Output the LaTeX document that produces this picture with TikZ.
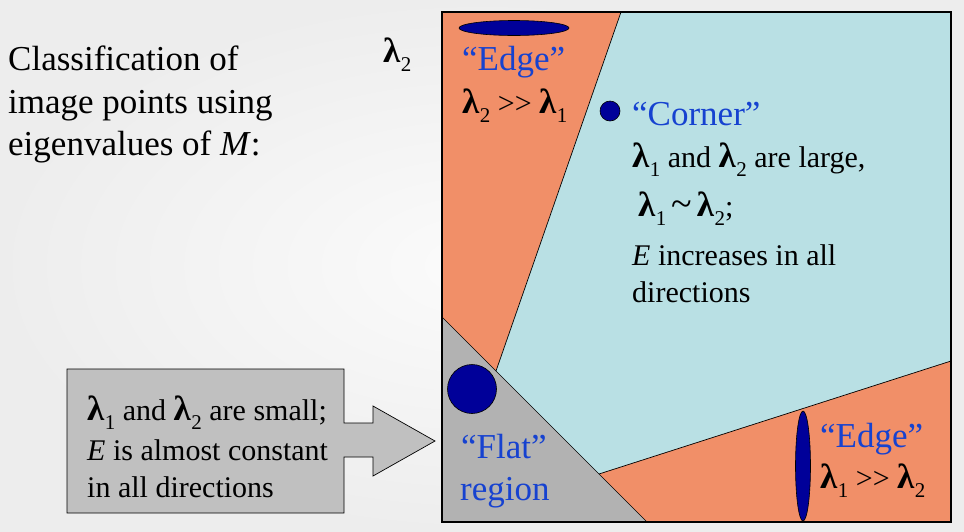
\documentclass[tikz,border=0pt]{standalone}
\usepackage{fontspec}
\setmainfont{Liberation Serif}
\definecolor{salmonfill}{RGB}{241,143,104}
\definecolor{cyanfill}{RGB}{185,224,228}
\definecolor{flatgray}{RGB}{178,178,178}
\definecolor{boxgray}{RGB}{192,192,192}
\definecolor{navyblob}{RGB}{0,0,153}
\definecolor{labelblue}{RGB}{22,66,208}
\newcommand\lamglyph{{\fontsize{35}{35}\selectfont\bfseries λ}}
\newcommand\lam[1]{\lamglyph\kern0.5pt\raisebox{-9pt}{\fontsize{21}{21}\selectfont #1}}
\newcommand\bigtilde{{\fontsize{38}{38}\selectfont\textasciitilde}}
\tikzset{
  big/.style={font=\fontsize{35}{42}\selectfont, inner sep=0pt, anchor=base west},
  body/.style={font=\fontsize{30}{36}\selectfont, inner sep=0pt, anchor=base west},
  bluelabel/.style={big, text=labelblue},
  blob/.style={draw=black, line width=0.6pt, fill=navyblob},
  region/.style={draw=black, line width=0.7pt}
}
\begin{document}
\begin{tikzpicture}[x=1pt,y=-1pt]
\useasboundingbox (0,0) rectangle (964,531);
\shade[inner color=gray!3, outer color=gray!14] (0,0) rectangle (964,531);

% regions
\fill[salmonfill] (442,12) -- (621,12) -- (496,371) -- (442,317) -- cycle;
\fill[cyanfill] (621,12) -- (951,12) -- (951,361) -- (599,474) -- (496,371) -- cycle;
\fill[salmonfill] (599,474) -- (951,361) -- (951,522) -- (647,522) -- cycle;
\fill[flatgray] (442,317) -- (647,522) -- (442,522) -- cycle;
\draw[region] (621,12) -- (496,371);
\draw[region] (442,317) -- (647,522);
\draw[region] (599,474) -- (951,361);
\draw[line width=1.3pt] (442,12) rectangle (951,522);

% blobs
\draw[blob] (514,28) ellipse [x radius=55pt, y radius=7.5pt];
\draw[blob] (610,111) circle [radius=10pt];
\draw[blob] (472,389) circle [radius=24.5pt];
\draw[blob] (803,466) ellipse [x radius=7.5pt, y radius=55pt];

% heading
\node[big] (h1) at (8,70) {Classification of};
\node[big] (h2) at (8,113) {image points using};
\node[big] (h3) at (8,155) {eigenvalues of \textit{M}:};

% axis label
\node[body] (ax) at (383,62) {\lam{2}};

% top edge
\node[bluelabel] (te1) at (462,70) {“Edge”};
\node[body] (te2) at (462,113) {\lam{2} >\kern0pt> \lam{1}};

% corner
\node[bluelabel] (c1) at (632,125) {“Corner”};
\node[body] (c2) at (632,167) {\lam{1} and \lam{2} are large,};
\node[body] (c3) at (638,216) {\lam{1}\,\bigtilde\,\lam{2};};
\node[body] (c4) at (632,265) {\textit{E} increases in all};
\node[body] (c5) at (632,302) {directions};

% flat
\node[bluelabel] (f1) at (461,458) {“Flat”};
\node[bluelabel] (f2) at (460,500) {region};

% bottom edge
\node[bluelabel] (be1) at (820,447) {“Edge”};
\node[body] (be2) at (820,488) {\lam{1} >\kern0pt> \lam{2}};

% callout
\draw[fill=boxgray, line width=0.7pt] (67,369) -- (344,369) -- (344,423) -- (373,423) -- (373,406)
  -- (435,441) -- (373,476) -- (373,457) -- (344,457) -- (344,513) -- (67,513) -- cycle;
\node[body] (g1) at (87,420) {\lam{1} and \lam{2} are small;};
\node[body] (g2) at (87,460) {\textit{E} is almost constant};
\node[body] (g3) at (87,497) {in all directions};
\end{tikzpicture}
\end{document}
